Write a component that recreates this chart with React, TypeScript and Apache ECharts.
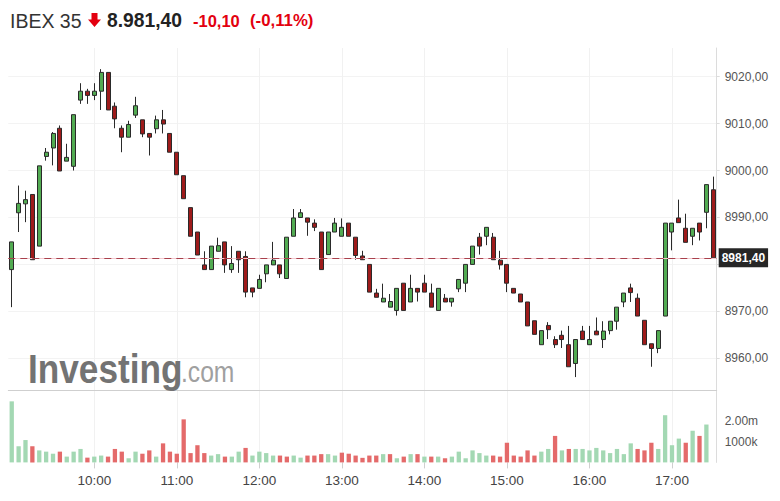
import React, { useEffect, useRef } from "react";
import * as echarts from "echarts";

// ---- data (5-minute candles, 09:00 – 17:30) ----
const opens = [
  8978.9, 8991.0, 8992.9, 8994.9, 8983.9, 9003.0, 9004.8, 9009.0, 9002.0, 9000.9,
  9015.0, 9016.9, 9016.0, 9016.9, 9020.9, 9013.7, 9009.0, 9007.1, 9011.8, 9010.8,
  9007.9, 9008.9, 9010.8, 9007.9, 9003.9, 8998.9, 8992.1, 8986.9, 8979.9, 8978.9,
  8982.8, 8984.8, 8978.9, 8982.8, 8981.7, 8975.0, 8974.9, 8978.0, 8979.9, 8979.9,
  8977.0, 8986.0, 8990.0, 8989.9, 8988.8, 8986.9, 8982.1, 8986.9, 8986.0, 8988.8,
  8985.8, 8981.8, 8980.0, 8973.9, 8972.0, 8970.9, 8970.2, 8976.0, 8972.0, 8974.9,
  8976.0, 8973.9, 8970.2, 8972.8, 8972.0, 8974.8, 8976.0, 8980.0, 8985.8, 8986.0,
  8985.8, 8980.9, 8980.0, 8974.9, 8973.7, 8972.0, 8968.0, 8962.9, 8967.0, 8964.0,
  8964.9, 8962.9, 8958.9, 8965.8, 8962.9, 8965.8, 8964.0, 8965.9, 8967.9, 8972.0,
  8975.0, 8972.8, 8968.1, 8963.1, 8962.1, 8969.0, 8986.9, 8989.9, 8987.7, 8986.0,
  8988.8, 8991.1, 8995.9,
];
const closes = [
  8984.8, 8993.0, 8993.8, 8981.0, 9001.0, 9003.9, 9007.9, 8999.9, 9002.8, 9011.9,
  9016.9, 9016.0, 9016.9, 9020.9, 9012.9, 9011.0, 9007.1, 9009.8, 9013.8, 9007.8,
  9007.1, 9010.8, 9009.9, 9003.9, 8999.1, 8994.0, 8986.0, 8982.0, 8978.9, 8983.9,
  8984.0, 8979.9, 8980.2, 8981.0, 8974.1, 8974.1, 8976.8, 8979.9, 8980.9, 8978.0,
  8985.8, 8989.9, 8991.0, 8989.0, 8987.9, 8978.9, 8986.9, 8988.8, 8987.9, 8986.0,
  8981.9, 8981.0, 8974.1, 8973.0, 8972.8, 8972.1, 8974.9, 8970.2, 8974.9, 8974.1,
  8974.1, 8970.9, 8974.9, 8972.0, 8972.8, 8976.8, 8980.0, 8983.9, 8983.9, 8987.9,
  8981.0, 8979.9, 8976.0, 8973.9, 8972.0, 8966.9, 8965.1, 8965.9, 8966.1, 8962.9,
  8964.0, 8958.2, 8964.0, 8964.0, 8964.0, 8965.0, 8965.8, 8967.9, 8970.9, 8973.9,
  8974.0, 8969.0, 8962.9, 8962.1, 8965.9, 8988.8, 8988.8, 8988.9, 8984.7, 8987.7,
  8986.9, 8997.0, 8981.4,
];
const lows = [
  8970.9, 8986.9, 8989.0, 8981.0, 8983.9, 9002.1, 9001.1, 8999.9, 9002.0, 9000.0,
  9014.2, 9014.2, 9015.0, 9012.9, 9012.9, 9009.0, 9003.9, 9007.1, 9011.2, 9007.1,
  9003.2, 9007.9, 9007.9, 9003.9, 8999.1, 8994.0, 8986.0, 8982.0, 8978.9, 8978.9,
  8982.8, 8978.2, 8978.2, 8978.2, 8973.0, 8973.0, 8974.9, 8976.2, 8979.9, 8977.1,
  8977.0, 8986.0, 8990.0, 8986.1, 8987.1, 8978.9, 8982.1, 8986.9, 8986.0, 8986.0,
  8981.0, 8981.0, 8974.1, 8973.0, 8972.0, 8970.9, 8969.1, 8970.2, 8972.0, 8972.1,
  8974.1, 8970.9, 8970.2, 8972.0, 8971.0, 8974.1, 8974.1, 8980.0, 8982.1, 8984.1,
  8981.0, 8978.9, 8974.1, 8973.9, 8972.0, 8966.9, 8965.1, 8962.9, 8964.1, 8962.2,
  8962.2, 8958.2, 8956.0, 8964.0, 8962.9, 8965.0, 8962.2, 8965.1, 8966.1, 8970.9,
  8972.0, 8969.0, 8962.9, 8958.2, 8961.1, 8969.0, 8983.0, 8988.9, 8984.7, 8984.1,
  8985.1, 8987.7, 8981.4,
];
const highs = [
  8984.8, 8996.8, 8995.7, 8994.9, 9001.0, 9004.8, 9008.2, 9009.6, 9005.7, 9011.9,
  9018.6, 9017.4, 9018.6, 9021.6, 9020.9, 9014.5, 9009.6, 9010.6, 9015.7, 9010.8,
  9007.9, 9011.7, 9012.9, 9007.9, 9003.9, 8998.9, 8992.1, 8986.9, 8982.8, 8983.9,
  8985.7, 8984.8, 8983.9, 8982.8, 8982.8, 8975.0, 8977.8, 8979.9, 8984.8, 8979.9,
  8985.8, 8991.8, 8991.8, 8989.9, 8989.6, 8986.9, 8986.9, 8989.9, 8989.8, 8988.8,
  8985.8, 8982.9, 8980.0, 8974.8, 8975.9, 8973.7, 8974.9, 8976.0, 8977.8, 8974.9,
  8977.8, 8975.9, 8974.9, 8973.7, 8972.8, 8976.8, 8980.0, 8983.9, 8986.7, 8987.9,
  8986.7, 8982.9, 8980.0, 8974.9, 8973.7, 8972.0, 8968.0, 8965.9, 8967.7, 8964.7,
  8965.9, 8966.9, 8964.0, 8966.9, 8966.9, 8968.7, 8967.9, 8967.9, 8970.9, 8973.9,
  8975.9, 8973.8, 8968.1, 8963.1, 8965.9, 8988.8, 8988.8, 8993.8, 8990.8, 8987.7,
  8988.8, 8997.0, 8998.7,
];
// volume in millions
const volumes = [
  2.95, 0.78, 1.08, 0.78, 0.58, 0.52, 0.42, 0.52, 0.28, 0.52,
  0.65, 0.23, 0.28, 0.33, 0.28, 0.65, 0.52, 0.2, 0.52, 0.42,
  0.58, 0.28, 0.92, 0.52, 0.42, 2.08, 0.45, 0.83, 0.45, 0.33,
  0.4, 0.28, 0.28, 0.52, 0.7, 0.33, 0.52, 0.45, 0.33, 0.33,
  0.28, 0.33, 0.23, 0.33, 0.33, 0.4, 0.4, 0.33, 0.47, 0.42,
  0.33, 0.22, 0.33, 0.33, 0.4, 0.4, 0.2, 0.28, 0.4, 0.4,
  0.28, 0.28, 0.28, 0.2, 0.28, 0.52, 0.2, 0.58, 0.45, 0.33,
  0.33, 0.28, 0.95, 0.33, 0.28, 0.58, 0.33, 0.52, 0.65, 1.28,
  0.58, 0.65, 0.65, 0.65, 0.58, 0.7, 0.58, 0.45, 0.65, 0.4,
  0.92, 0.65, 0.58, 0.95, 0.65, 2.28, 0.83, 1.15, 0.95, 1.53,
  1.28, 1.83, 0,
];
// 1 = green volume bar, 0 = red volume bar
const volumeUp = [
  1, 1, 1, 0, 1, 1, 1, 0, 1, 1,
  1, 0, 1, 1, 0, 0, 0, 1, 1, 0,
  0, 1, 0, 0, 0, 0, 0, 0, 0, 1,
  1, 0, 1, 1, 0, 1, 1, 1, 1, 0,
  0, 1, 1, 0, 0, 0, 1, 1, 0, 0,
  0, 0, 0, 0, 1, 0, 1, 0, 1, 0,
  1, 0, 1, 0, 1, 1, 1, 1, 1, 1,
  0, 0, 0, 0, 0, 0, 0, 1, 1, 0,
  1, 0, 1, 1, 1, 1, 1, 1, 1, 1,
  1, 0, 0, 0, 1, 1, 1, 1, 0, 1,
  0, 1, 1,
];
const lastPrice = 8981.4;
const lastPriceLabel = "8981,40";
const hiddenPriceTick = 8980; // covered by the last-price box
const volumeTicks: Record<number, string> = { 1000000: "1000k", 2000000: "2.00m" };

const times: string[] = [];
for (let i = 0; i < opens.length; i++) {
  const m = 9 * 60 + i * 5;
  const h = Math.floor(m / 60);
  const mm = m % 60;
  times.push(`${h < 10 ? "0" + h : h}:${mm < 10 ? "0" + mm : mm}`);
}
const isHour = (i: number) => i % 12 === 0 && i > 0;

const FONT = "'Liberation Sans', Arial, sans-serif";

export default function App() {
  const ref = useRef<HTMLDivElement>(null);
  useEffect(() => {
    if (!ref.current) return;
    const chart = echarts.init(ref.current, null, { renderer: "svg" });
    const candleData = opens.map((o, i) => [o, closes[i], lows[i], highs[i]]);
    const volData = volumes.map((v, i) => ({
      value: v * 1e6,
      itemStyle: { color: volumeUp[i] ? "#a3d8b3" : "#e46a6a" },
    }));
    chart.setOption({
      animation: false,
      backgroundColor: "#ffffff",
      textStyle: { fontFamily: FONT },
      grid: [
        { left: 8.3, right: 63.3, top: 48, bottom: 111 },
        { left: 8.3, right: 63.3, top: 391, bottom: 38.6 },
      ],
      xAxis: [
        {
          type: "category",
          gridIndex: 0,
          data: times,
          boundaryGap: true,
          axisLine: { show: true, lineStyle: { color: "#cfcfcf", width: 1 } },
          axisTick: { show: false },
          axisLabel: { show: false },
          splitLine: {
            show: true,
            interval: (i: number) => isHour(i),
            alignWithLabel: true,
            lineStyle: { color: "#f1f1f1" },
          },
        },
        {
          type: "category",
          gridIndex: 1,
          data: times,
          boundaryGap: true,
          axisLine: { show: false },
          axisTick: {
            show: true,
            alignWithLabel: true,
            interval: (i: number) => isHour(i),
            length: 6,
            lineStyle: { color: "#cfcfcf" },
          },
          axisLabel: {
            show: true,
            interval: (i: number) => isHour(i),
            color: "#444",
            fontSize: 13.5,
            fontFamily: FONT,
            margin: 11,
          },
          splitLine: {
            show: true,
            interval: (i: number) => isHour(i),
            alignWithLabel: true,
            lineStyle: { color: "#f1f1f1" },
          },
        },
      ],
      yAxis: [
        {
          type: "value",
          gridIndex: 0,
          position: "right",
          min: 8953.25,
          max: 9026.1,
          minInterval: 10,
          maxInterval: 10,
          scale: true,
          axisLine: { show: true, lineStyle: { color: "#dcdcdc" } },
          axisTick: { show: true, length: 3, lineStyle: { color: "#dcdcdc" } },
          axisLabel: {
            color: "#555",
            fontSize: 12,
            fontFamily: FONT,
            margin: 8,
            showMinLabel: false,
            showMaxLabel: false,
            formatter: (v: number) =>
              Math.abs(v % 10) < 1e-6 && Math.abs(v - hiddenPriceTick) > 1e-6
                ? v.toFixed(2).replace(".", ",")
                : "",
          },
          splitLine: {
            show: true,
            showMinLine: false,
            showMaxLine: false,
            lineStyle: { color: "#f3f3f3" },
          },
        },
        {
          type: "value",
          gridIndex: 1,
          position: "right",
          min: 0,
          max: 3450000,
          minInterval: 1000000,
          maxInterval: 1000000,
          axisLine: { show: true, lineStyle: { color: "#dcdcdc" } },
          axisTick: { show: false },
          axisLabel: {
            color: "#555",
            fontSize: 12,
            fontFamily: FONT,
            margin: 8,
            showMinLabel: false,
            showMaxLabel: false,
            formatter: (v: number) => volumeTicks[Math.round(v)] || "",
          },
          splitLine: { show: false },
        },
      ],
      series: [
        {
          type: "candlestick",
          xAxisIndex: 0,
          yAxisIndex: 0,
          data: candleData,
          barWidth: 4.5,
          z: 3,
          itemStyle: {
            color: "#52ab52",
            color0: "#9e1b1b",
            borderColor: "#2a2a2a",
            borderColor0: "#2a2a2a",
            borderWidth: 1,
          },
          markLine: {
            silent: true,
            symbol: "none",
            animation: false,
            data: [
              {
                yAxis: lastPrice,
                lineStyle: { type: "solid", color: "#f4c9cf", width: 1 },
                label: { show: false },
              },
              {
                yAxis: lastPrice,
                lineStyle: { type: [7, 5], color: "#a8404c", width: 1 },
                label: {
                  show: true,
                  position: "end",
                  distance: 2,
                  formatter: lastPriceLabel,
                  backgroundColor: "#262626",
                  color: "#ffffff",
                  fontSize: 12,
                  fontWeight: "bold",
                  fontFamily: FONT,
                  padding: [4, 3, 3, 3],
                },
              },
            ],
          },
        },
        {
          type: "bar",
          xAxisIndex: 1,
          yAxisIndex: 1,
          data: volData,
          barWidth: 4.3,
        },
      ],
      graphic: [
        {
          type: "text",
          left: 10,
          top: 10.5,
          style: { text: "IBEX 35", fill: "#333", fontSize: 19.5, fontFamily: FONT },
        },
        {
          type: "polygon",
          shape: {
            points: [
              [91.5, 13],
              [97.5, 13],
              [97.5, 19.5],
              [101, 19.5],
              [94.5, 27],
              [88, 19.5],
              [91.5, 19.5],
            ],
          },
          style: { fill: "#e3000f" },
        },
        {
          type: "text",
          left: 107,
          top: 10.5,
          style: {
            text: "8.981,40",
            fill: "#222",
            fontSize: 19.3,
            fontWeight: "bold",
            fontFamily: FONT,
          },
        },
        {
          type: "text",
          left: 193,
          top: 12.5,
          style: {
            text: "-10,10",
            fill: "#e3000f",
            fontSize: 16.5,
            fontWeight: "bold",
            fontFamily: FONT,
          },
        },
        {
          type: "text",
          left: 250,
          top: 12,
          style: {
            text: "(-0,11%)",
            fill: "#e3000f",
            fontSize: 16.8,
            fontWeight: "bold",
            fontFamily: FONT,
          },
        },
        {
          type: "text",
          x: 28,
          y: 369,
          scaleX: 0.88,
          z: 1,
          style: {
            text: "Investing",
            fill: "#737373",
            fontSize: 40,
            fontWeight: "bold",
            fontFamily: FONT,
            verticalAlign: "middle",
          },
        },
        {
          type: "text",
          x: 181,
          y: 372,
          scaleX: 0.85,
          z: 1,
          style: {
            text: ".com",
            fill: "#a0a0a0",
            fontSize: 29,
            fontFamily: FONT,
            verticalAlign: "middle",
          },
        },
      ],
    });
    return () => chart.dispose();
  }, []);
  return (
    <div
      ref={ref}
      style={{ position: "fixed", left: 0, top: 0, width: 780, height: 501, background: "#fff" }}
    />
  );
}
